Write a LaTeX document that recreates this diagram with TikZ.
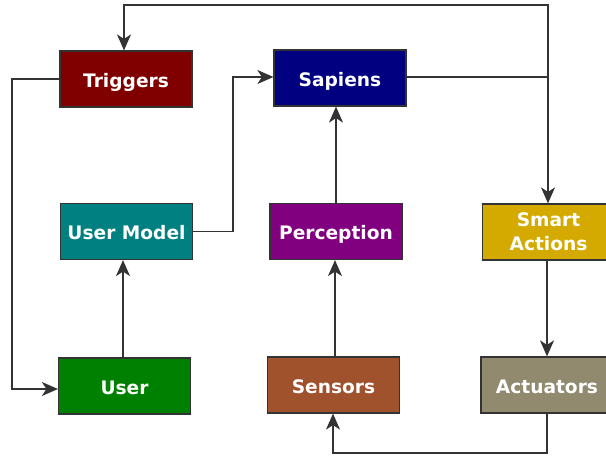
\documentclass[tikz,border=0pt]{standalone}
\usepackage{fontspec}
\setmainfont{DejaVu Sans}
\usetikzlibrary{arrows.meta}
\definecolor{ctrig}{HTML}{800000}
\definecolor{csap}{HTML}{000080}
\definecolor{cum}{HTML}{008080}
\definecolor{cperc}{HTML}{800080}
\definecolor{csmart}{HTML}{D4AA00}
\definecolor{cuser}{HTML}{008000}
\definecolor{csens}{HTML}{A0522D}
\definecolor{cact}{HTML}{918A6F}
\definecolor{cline}{HTML}{333333}
\begin{document}
\begin{tikzpicture}[x=1pt,y=-1pt,
  box/.style={draw=cline, line width=1.2pt, minimum width=132pt, minimum height=56pt,
    inner sep=0pt, text=white, align=center,
    font=\fontsize{18.6}{24}\selectfont\bfseries},
  one/.style={text height=16.6pt, text depth=0pt},
  conn/.style={draw=black!80, line width=1.3pt},
  arr/.style={conn, -{Stealth[length=16pt,width=14pt,inset=4.5pt]}}]
\useasboundingbox (0,0) rectangle (606,457);
\node[box, one, fill=ctrig] (trig) at (126,79) {Triggers};
\node[box, one, fill=csap] (sap) at (340,78) {Sapiens};
\node[box, one, fill=cum] (um) at (126.5,231.5) {User Model};
\node[box, one, fill=cperc] (perc) at (336,231.5) {Perception};
\node[box, fill=csmart] (smart) at (548.5,232) {Smart\\Actions};
\node[box, one, fill=cuser] (user) at (124.5,386) {User};
\node[box, one, fill=csens] (sens) at (333.5,385) {Sensors};
\node[box, one, fill=cact] (act) at (547,385) {Actuators};
\coordinate (j) at (548,77);
\draw[conn] (sap.east |- j) -- (j);
\draw[arr] (j) |- (124,5) -- (trig.north -| 124,0);
\draw[arr] (j) -- (smart.north -| j);
\draw[arr] (trig.west) -- (12,79) |- (user.west |- 0,389);
\draw[arr] (user.north -| 123,0) -- (um.south -| 123,0);
\draw[arr] (um.east) -- (233,231.5) |- (sap.west |- 0,77);
\draw[arr] (perc.north) -- (perc.north |- sap.south);
\draw[arr] (sens.north -| 335,0) -- (perc.south -| 335,0);
\draw[arr] (smart.south -| 547,0) -- (act.north);
\draw[arr] (act.south) -- (547,453) -| (sens.south -| 333,0);
\end{tikzpicture}
\end{document}
